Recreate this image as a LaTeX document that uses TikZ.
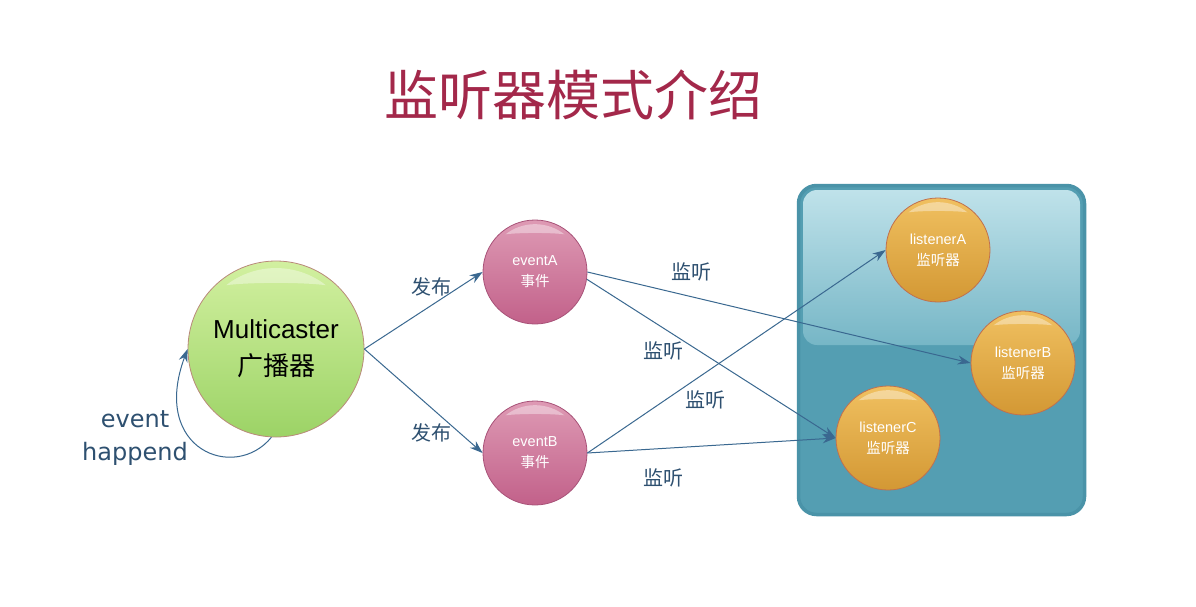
\documentclass[tikz,border=0pt]{standalone}
\usepackage{fontspec}
\setmainfont{Liberation Sans}
\newfontfamily\cjk{Noto Sans CJK SC}
\newfontfamily\lucidaish{DejaVu Sans}
\usetikzlibrary{arrows.meta}
\definecolor{titlered}{HTML}{A3284A}
\definecolor{arrowblue}{HTML}{3A6890}
\definecolor{labelblue}{HTML}{2E5070}
\definecolor{greenTop}{HTML}{D2F0A0}
\definecolor{greenBot}{HTML}{9CD366}
\definecolor{pinkTop}{HTML}{DE9AB4}
\definecolor{pinkBot}{HTML}{C2618A}
\definecolor{orangeTop}{HTML}{F0C060}
\definecolor{orangeBot}{HTML}{D39834}
\definecolor{boxFill}{HTML}{549EB2}
\definecolor{boxEdge}{HTML}{4A93A8}
\definecolor{boxHiTop}{HTML}{BFE2EA}
\definecolor{boxHiBot}{HTML}{76B6C6}
\definecolor{greenEdge}{HTML}{B98A7A}
\definecolor{pinkEdge}{HTML}{A85278}
\definecolor{orangeEdge}{HTML}{C0704E}
\tikzset{
  ball/.style={circle, inner sep=0pt, align=center, draw=#1, line width=0.8pt},
  multiball/.style={ball=greenEdge, minimum size=176pt, top color=greenTop, bottom color=greenBot, font=\fontsize{26}{37}\selectfont, text=black},
  eventball/.style={ball=pinkEdge, minimum size=104pt, top color=pinkTop, bottom color=pinkBot, font=\fontsize{14.5}{21}\selectfont, text=white},
  listenball/.style={ball=orangeEdge, minimum size=104pt, top color=orangeTop, bottom color=orangeBot, font=\fontsize{14.5}{21}\selectfont, text=white},
  link/.style={draw=arrowblue, line width=1pt, -{Stealth[length=13pt,width=9pt]}},
  lbl/.style={text=labelblue, font=\cjk\fontsize{20}{24}\selectfont, inner sep=0pt},
  container/.style={draw=boxEdge, line width=3.5pt, fill=boxFill, rounded corners=18pt, minimum width=286pt, minimum height=329pt, inner sep=0pt},
  gloss/.style={white, fill opacity=0.38},
}
\newcommand\glosshl[3]{%
  \fill[gloss] ({#1+0.92*#3*cos(232)},{#2+0.92*#3*sin(232)})
    arc[start angle=232, end angle=308, radius={0.92*#3}]
    .. controls ({#1+0.3*#3},{#2-0.76*#3}) and ({#1-0.3*#3},{#2-0.76*#3}) ..
    ({#1+0.92*#3*cos(232)},{#2+0.92*#3*sin(232)});}
\begin{document}
\begin{tikzpicture}[x=1pt,y=-1pt]
\useasboundingbox (0,0) rectangle (1196,606);
\fill[white] (0,0) rectangle (1196,606);
% title
\node[text=titlered, font=\cjk\fontsize{54}{60}\selectfont, inner sep=0pt] (title) at (573,95) {监听器模式介绍};
% container
\node[container] (box) at (941.5,350) {};
\shade[top color=boxHiTop, bottom color=boxHiBot, rounded corners=14pt] (803,190) rectangle (1080,345);
% balls
\node[multiball] (multi) at (276,349) {Multicaster\\{\cjk 广播器}};
\node[eventball] (evA) at (535,272) {eventA\\{\cjk 事件}};
\node[eventball] (evB) at (535,453) {eventB\\{\cjk 事件}};
\node[listenball] (lsA) at (938,250) {listenerA\\{\cjk 监听器}};
\node[listenball] (lsB) at (1023,363) {listenerB\\{\cjk 监听器}};
\node[listenball] (lsC) at (888,438) {listenerC\\{\cjk 监听器}};
% highlights
\glosshl{276}{349}{88}
\glosshl{535}{272}{52}
\glosshl{535}{453}{52}
\glosshl{938}{250}{52}
\glosshl{1023}{363}{52}
\glosshl{888}{438}{52}
% connectors
\draw[link] (multi.east) -- (evA.west);
\draw[link] (multi.east) -- (evB.west);
\draw[link] (evA.east) -- (lsB.west);
\draw[link] (evA.-8) -- (lsC.west);
\draw[link] (evB.east) -- (lsA.west);
\draw[link] (evB.east) -- (lsC.west);
\draw[link] (multi.-93) .. controls (235,482) and (150,450) .. (multi.west);
% labels
\node[lbl] (l1) at (431,287) {发布};
\node[lbl] (l2) at (431,433) {发布};
\node[lbl] (l3) at (691,272) {监听};
\node[lbl] (l4) at (663,351) {监听};
\node[lbl] (l5) at (705,400) {监听};
\node[lbl] (l6) at (663,478) {监听};
\node[text=labelblue, font=\lucidaish\fontsize{24}{33}\selectfont, align=center, inner sep=0pt] (eh) at (135,438) {event\\happend};
\end{tikzpicture}
\end{document}
